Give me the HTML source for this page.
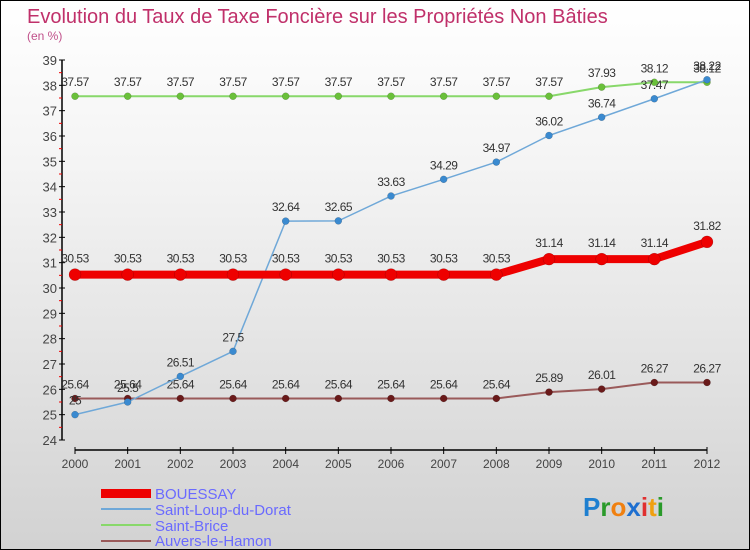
<!DOCTYPE html>
<html><head><meta charset="utf-8"><style>
html,body{margin:0;padding:0}
body{width:750px;height:550px;overflow:hidden;font-family:"Liberation Sans",sans-serif}
#wrap{position:relative;width:748px;height:548px;border:1px solid #000;background:linear-gradient(#fff 0%,#f4f4f4 30%,#d2d2d2 100%)}
</style></head><body>
<div id="wrap">
<svg id="chart" width="748" height="548" viewBox="0 0 748 548" style="position:absolute;left:0;top:0">
<text x="26" y="22" font-size="20" fill="#c0306a">Evolution du Taux de Taxe Foncière sur les Propriétés Non Bâties</text>
<text x="26" y="39" font-size="12" fill="#c0508a">(en %)</text>
<g id="axes"></g><g id="series"></g>
<g>
<rect x="100" y="488" width="50" height="9" fill="#e00"/>
<text x="154" y="498" font-size="15" fill="#6a6aff">BOUESSAY</text>
<line x1="100" y1="508" x2="150" y2="508" stroke="#6fa8d8" stroke-width="2"/>
<text x="154" y="514" font-size="15" fill="#6a6aff">Saint-Loup-du-Dorat</text>
<line x1="100" y1="524" x2="150" y2="524" stroke="#88d86a" stroke-width="2"/>
<text x="154" y="530" font-size="15" fill="#6a6aff">Saint-Brice</text>
<line x1="100" y1="540" x2="150" y2="540" stroke="#9a5a5a" stroke-width="2"/>
<text x="154" y="545" font-size="15" fill="#6a6aff">Auvers-le-Hamon</text>
</g>
<text x="582" y="515" font-size="26" font-weight="bold"><tspan fill="#1e7fd0">P</tspan><tspan fill="#2a9a2a">r</tspan><tspan fill="#f08010">o</tspan><tspan fill="#1e6fd0">x</tspan><tspan fill="#e03030">i</tspan><tspan fill="#f0a010">t</tspan><tspan fill="#2a9a2a">i</tspan></text>
</svg>
</div>
<script>
const years=[2000,2001,2002,2003,2004,2005,2006,2007,2008,2009,2010,2011,2012];
const yTicks=[24,25,26,27,28,29,30,31,32,33,34,35,36,37,38,39];
const bouessay=[30.53,30.53,30.53,30.53,30.53,30.53,30.53,30.53,30.53,31.14,31.14,31.14,31.82];
const saintLoup=[25,25.5,26.51,27.5,32.64,32.65,33.63,34.29,34.97,36.02,36.74,37.47,38.22];
const saintBrice=[37.57,37.57,37.57,37.57,37.57,37.57,37.57,37.57,37.57,37.57,37.93,38.12,38.12];
const auvers=[25.64,25.64,25.64,25.64,25.64,25.64,25.64,25.64,25.64,25.89,26.01,26.27,26.27];
const NS='http://www.w3.org/2000/svg';
const X=i=>74+i*(632/(years.length-1));
const Y=v=>439-(v-24)*(380/15);
function mk(t,a,p){const e=document.createElementNS(NS,t);for(const k in a)e.setAttribute(k,a[k]);p.appendChild(e);return e;}
const ax=document.getElementById('axes');
const yl=mk('line',{x1:61,y1:Y(39),x2:61,y2:Y(24),stroke:'#000','stroke-width':1.5},ax);


const xl=mk('line',{x1:X(0),y1:449,x2:X(12),y2:449,stroke:'#000','stroke-width':1.5},ax);


yTicks.forEach(v=>{
 mk('line',{x1:58,y1:Y(v),x2:64,y2:Y(v),stroke:'#000'},ax);
 if(v<39)mk('line',{x1:58,y1:Y(v+0.5),x2:61,y2:Y(v+0.5),stroke:'#e00'},ax);
 const t=mk('text',{x:56,y:Y(v)+5,'font-size':13,fill:'#444','text-anchor':'end'},ax);t.textContent=v;
 
 
});
years.forEach((yr,i)=>{
 mk('line',{x1:X(i),y1:446,x2:X(i),y2:453,stroke:'#000'},ax);
 const t=mk('text',{x:X(i),y:467,'font-size':12,fill:'#444','text-anchor':'middle'},ax);t.textContent=yr;
 
 
});
const sg=document.getElementById('series');
function series(vals,color,w,r,name,dot,lblCol,lblSize,lblOff){
 const g=mk('g',{},sg);
 
 
 const pl=mk('polyline',{points:vals.map((v,i)=>X(i)+','+Y(v)).join(' '),fill:'none',stroke:color,'stroke-width':w,'stroke-linejoin':'round'},g);
 
 
 vals.forEach((v,i)=>{
  const c=mk('circle',{cx:X(i),cy:Y(v),r:r,fill:dot,stroke:'#0004','stroke-width':0.5},g);
  
  
  const t=mk('text',{x:X(i),y:Y(v)-lblOff,'font-size':lblSize,fill:lblCol,'text-anchor':'middle','letter-spacing':'-0.5'},g);t.textContent=v;
  
  
 });
}
series(auvers,'#9a5a5a',2,3.5,'series-auvers','#6a1a1a','#333',12,10);
series(saintBrice,'#88d86a',2,3.5,'series-saint-brice','#6ac03a','#333',12,10);
series(saintLoup,'#6fa8d8',1.5,3.5,'series-saint-loup','#3a8ad0','#333',12,10);
series(bouessay,'#e00',8,6,'series-bouessay','#e00','#333',12,12);
</script>
</body></html>
